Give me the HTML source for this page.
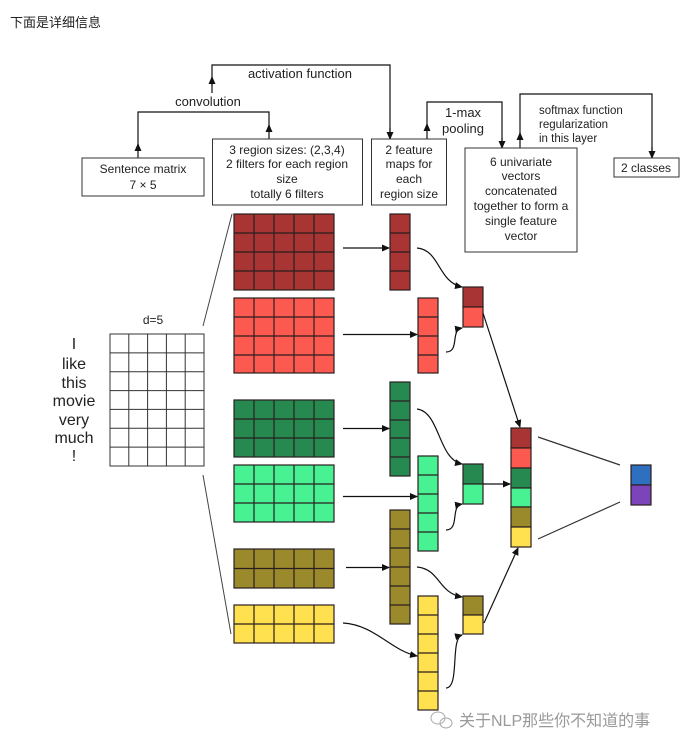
<!DOCTYPE html>
<html><head><meta charset="utf-8"><style>
body{margin:0;background:#fff;width:682px;height:750px;overflow:hidden}
svg{display:block}
text{font-family:"Liberation Sans",Arial,sans-serif;fill:#222}
</style></head><body>
<svg width="682" height="750" viewBox="0 0 682 750" xmlns="http://www.w3.org/2000/svg">
<defs>
<marker id="a" markerWidth="8" markerHeight="8" refX="7" refY="4" orient="auto" markerUnits="userSpaceOnUse">
<path d="M0,0.5 L8,4 L0,7.5 z" fill="#111"/></marker>
</defs>
<text x="10" y="27" font-size="13" style='font-family:"Liberation Sans","Noto Sans CJK SC",sans-serif'>下面是详细信息</text>

<g fill="none" stroke="#111" stroke-width="1.2">
<!-- convolution -->
<path d="M138,158 V112 H269 V139"/>
<path d="M138,150 V144" marker-end="url(#a)"/>
<path d="M269,132 V125" marker-end="url(#a)"/>
<!-- activation -->
<path d="M212,93 V65 H390 V139" />
<path d="M212,86 V77" marker-end="url(#a)"/>
<path d="M390,128 V139" marker-end="url(#a)"/>
<!-- 1-max -->
<path d="M427,139 V102 H502 V148"/>
<path d="M427,131 V124" marker-end="url(#a)"/>
<path d="M502,138 V148" marker-end="url(#a)"/>
<!-- softmax -->
<path d="M520,148 V94 H652 V158"/>
<path d="M520,140 V133" marker-end="url(#a)"/>
<path d="M652,147 V158" marker-end="url(#a)"/>
</g>
<g font-size="13" text-anchor="middle">
<text x="300" y="78">activation function</text>
<text x="208" y="106">convolution</text>
<text x="463" y="117">1-max</text>
<text x="463" y="133">pooling</text>
</g>
<g font-size="11.5">
<text x="539" y="114">softmax function</text>
<text x="539" y="128">regularization</text>
<text x="539" y="142">in this layer</text>
</g>

<g fill="#fff" stroke="#333" stroke-width="1">
<rect x="82" y="158" width="122" height="38"/>
<rect x="212.5" y="139" width="150" height="66"/>
<rect x="371.5" y="139" width="75" height="66"/>
<rect x="465" y="148" width="112" height="104"/>
<rect x="614" y="158" width="65" height="19"/>
</g>
<g font-size="12" text-anchor="middle">
<text x="143" y="173">Sentence matrix</text>
<text x="143" y="189">7 × 5</text>
<text x="287" y="154">3 region sizes: (2,3,4)</text>
<text x="287" y="168">2 filters for each region</text>
<text x="287" y="183">size</text>
<text x="287" y="198">totally 6 filters</text>
<text x="409" y="154">2 feature</text>
<text x="409" y="168">maps for</text>
<text x="409" y="183">each</text>
<text x="409" y="198">region size</text>
<text x="521" y="166">6 univariate</text>
<text x="521" y="180">vectors</text>
<text x="521" y="195">concatenated</text>
<text x="521" y="210">together to form a</text>
<text x="521" y="225">single feature</text>
<text x="521" y="240">vector</text>
<text x="646" y="172">2 classes</text>
</g>

<!-- sentence words -->
<g font-size="16" text-anchor="middle">
<text x="74" y="349">I</text>
<text x="74" y="369">like</text>
<text x="74" y="388">this</text>
<text x="74" y="406">movie</text>
<text x="74" y="425">very</text>
<text x="74" y="443">much</text>
<text x="74" y="461">!</text>
</g>
<text x="153" y="324" font-size="12" text-anchor="middle">d=5</text>
<g fill="none" stroke="#333" stroke-width="1">
<rect x="110" y="334" width="94" height="132"/>
<path d="M128.8,334V466M147.6,334V466M166.4,334V466M185.2,334V466M110,352.9H204M110,371.7H204M110,390.6H204M110,409.4H204M110,428.3H204M110,447.1H204"/>
<path d="M203,326 L232,214 M203,475 L231,634" stroke="#444"/>
</g>

<!-- filter grids -->
<g stroke="#2a1f1f" stroke-width="1.2">
<rect x="234" y="214" width="100" height="76" fill="#a93434"/>
<rect x="234" y="298" width="100" height="75" fill="#fc5a50"/>
<rect x="234" y="400" width="100" height="57" fill="#268a50"/>
<rect x="234" y="465" width="100" height="57" fill="#48f293"/>
<rect x="234" y="549" width="100" height="39" fill="#9a8a2c"/>
<rect x="234" y="605" width="100" height="38" fill="#ffe04e"/>
<path fill="none" d="M254,214V290M274,214V290M294,214V290M314,214V290M234,233H334M234,252H334M234,271H334
M254,298V373M274,298V373M294,298V373M314,298V373M234,317H334M234,336H334M234,355H334
M254,400V457M274,400V457M294,400V457M314,400V457M234,419H334M234,438H334
M254,465V522M274,465V522M294,465V522M314,465V522M234,484H334M234,503H334
M254,549V588M274,549V588M294,549V588M314,549V588M234,568.5H334
M254,605V643M274,605V643M294,605V643M314,605V643M234,624H334"/>

<!-- feature maps -->
<rect x="390" y="214" width="20" height="76" fill="#a93434"/>
<rect x="418" y="298" width="20" height="75" fill="#fc5a50"/>
<rect x="390" y="382" width="20" height="94" fill="#268a50"/>
<rect x="418" y="456" width="20" height="95" fill="#48f293"/>
<rect x="390" y="510" width="20" height="114" fill="#9a8a2c"/>
<rect x="418" y="596" width="20" height="114" fill="#ffe04e"/>
<path fill="none" d="M390,233H410M390,252H410M390,271H410
M418,317H438M418,336H438M418,355H438
M390,401H410M390,420H410M390,438H410M390,457H410
M418,475H438M418,494H438M418,513H438M418,532H438
M390,529H410M390,548H410M390,567H410M390,586H410M390,605H410
M418,615H438M418,634H438M418,653H438M418,672H438M418,691H438"/>

<!-- pooled -->
<rect x="463" y="287" width="20" height="20" fill="#a93434"/>
<rect x="463" y="307" width="20" height="20" fill="#fc5a50"/>
<rect x="463" y="464" width="20" height="20" fill="#268a50"/>
<rect x="463" y="484" width="20" height="20" fill="#48f293"/>
<rect x="463" y="596" width="20" height="19" fill="#9a8a2c"/>
<rect x="463" y="615" width="20" height="19" fill="#ffe04e"/>

<!-- concat -->
<rect x="511" y="428" width="20" height="20" fill="#a93434"/>
<rect x="511" y="448" width="20" height="20" fill="#fc5a50"/>
<rect x="511" y="468" width="20" height="20" fill="#268a50"/>
<rect x="511" y="488" width="20" height="19" fill="#48f293"/>
<rect x="511" y="507" width="20" height="20" fill="#9a8a2c"/>
<rect x="511" y="527" width="20" height="20" fill="#ffe04e"/>

<!-- output -->
<rect x="631" y="465" width="20" height="20" fill="#2f6fc0"/>
<rect x="631" y="485" width="20" height="20" fill="#7b44bb"/>
</g>

<!-- arrows -->
<g fill="none" stroke="#111" stroke-width="1.2">
<path d="M343,248 H389" marker-end="url(#a)"/>
<path d="M343,334.5 H417" marker-end="url(#a)"/>
<path d="M343,428.5 H389" marker-end="url(#a)"/>
<path d="M343,496.5 H417" marker-end="url(#a)"/>
<path d="M346,567.5 H389" marker-end="url(#a)"/>
<path d="M343,623 C375,625 390,650 417,656" marker-end="url(#a)"/>
<path d="M417,248 C440,250 438,282 462,287" marker-end="url(#a)"/>
<path d="M446,352 C460,352 450,330 462,328" marker-end="url(#a)"/>
<path d="M417,409 C440,412 438,459 462,464" marker-end="url(#a)"/>
<path d="M446,530 C460,530 450,506 462,504" marker-end="url(#a)"/>
<path d="M417,567 C440,569 438,593 462,597" marker-end="url(#a)"/>
<path d="M446,688 C460,688 450,638 462,635" marker-end="url(#a)"/>
<path d="M483,313 L520,427" marker-end="url(#a)"/>
<path d="M483,484 H510" marker-end="url(#a)"/>
<path d="M484,623 L518,548" marker-end="url(#a)"/>
<path d="M538,437 L620,465 M538,539 L620,502" stroke="#333"/>
</g>

<!-- watermark -->
<g fill="none" stroke="#aaa" stroke-width="1">
<ellipse cx="438" cy="718" rx="7" ry="6"/>
<ellipse cx="446" cy="723" rx="6" ry="5"/>
</g>
<text x="459" y="726" font-size="16" style='font-family:"Liberation Sans","Noto Sans CJK SC",sans-serif;fill:#999'>关于NLP那些你不知道的事</text>
</svg>
</body></html>
